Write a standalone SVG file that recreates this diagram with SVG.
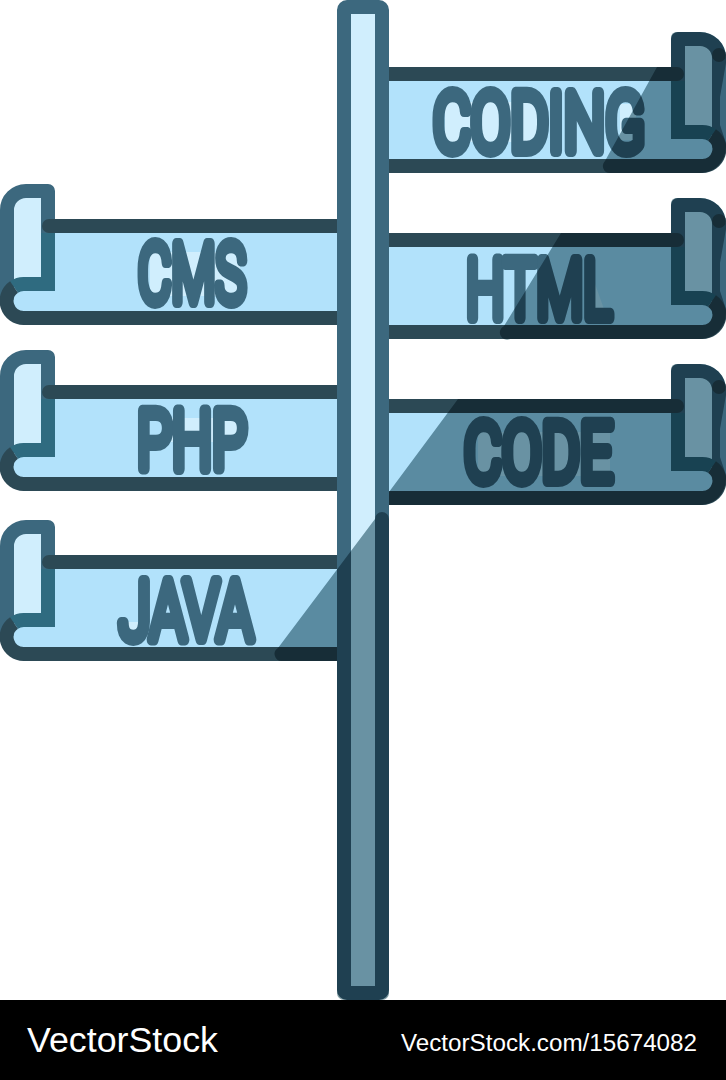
<svg xmlns="http://www.w3.org/2000/svg" width="726" height="1080" viewBox="0 0 726 1080">
<style>
.ln{fill:none;stroke-width:14;stroke-linecap:round;stroke-linejoin:round}
.bt{fill:none;stroke-width:14;stroke-linecap:butt}
.out{stroke:#3c687e}.teal{stroke:#2f6b80}.dk{stroke:#2c4955}
.word{font-family:Roboto,"Liberation Sans",Arial,sans-serif;font-weight:300;font-size:82px;fill:#3c687e;stroke:#3c687e;stroke-width:12;stroke-linejoin:round;stroke-linecap:round}
.pale{fill:#d0eefd}
.shade{fill:#819da4;mix-blend-mode:multiply}
.foot{font-family:"Liberation Sans",Arial,sans-serif;fill:#fff}
</style>
<defs>
<g id="scroll">
<path fill="#b2e2fb" d="M380 74H678V132H702A17 17 0 0 1 702 166H380Z"/>
<rect class="pale" x="678" y="39" width="36" height="93"/>
<path class="ln out" d="M678 132V39H700A19 19 0 0 1 719 58V145"/>
<path class="bt teal" d="M678 81V132H702A17 17 0 0 1 712 135"/>
<path class="bt dk" d="M380 166H702A17 17 0 0 0 712 135"/>
<path class="ln dk" d="M380 74H677"/>
</g>
</defs>
<rect width="726" height="1080" fill="#fff"/>
<g id="sign-coding">
<use href="#scroll"/>
<circle cx="719" cy="55" r="7" fill="#2c4955"/>
<rect class="pale" x="445" y="102" width="100" height="40"/>
<rect class="pale" x="620" y="104" width="16" height="36"/>
<text class="word" x="433" y="151" textLength="212" lengthAdjust="spacingAndGlyphs">CODING</text>
</g>
<g id="sign-html">
<use href="#scroll" transform="translate(0 166)"/>
<circle cx="719" cy="221" r="7" fill="#2c4955"/>
<path class="pale" d="M590 270L605 312H590Z"/>
<text class="word" x="466" y="318" textLength="146" lengthAdjust="spacingAndGlyphs">HTML</text>
</g>
<g id="sign-code">
<use href="#scroll" transform="translate(0 332)"/>
<circle cx="719" cy="387" r="7" fill="#2c4955"/>
<rect class="pale" x="478" y="432" width="132" height="44"/>
<text class="word" x="464" y="481" textLength="149" lengthAdjust="spacingAndGlyphs">CODE</text>
</g>
<g id="sign-cms">
<use href="#scroll" transform="matrix(-1 0 0 1 726 152)"/>
<rect class="pale" x="150" y="252" width="90" height="44"/>
<text class="word" x="138" y="302" textLength="108" lengthAdjust="spacingAndGlyphs">CMS</text>
</g>
<g id="sign-php">
<use href="#scroll" transform="matrix(-1 0 0 1 726 318)"/>
<rect class="pale" x="165" y="418" width="75" height="24"/>
<text class="word" x="137" y="469" textLength="110" lengthAdjust="spacingAndGlyphs">PHP</text>
</g>
<g id="sign-java">
<use href="#scroll" transform="matrix(-1 0 0 1 726 488)"/>
<rect class="pale" x="128" y="622" width="16" height="12"/>
<text class="word" x="119" y="639" textLength="134" lengthAdjust="spacingAndGlyphs">JAVA</text>
</g>
<g id="post">
<rect x="344" y="7" width="38" height="986" rx="3" fill="#d0eefd" stroke="#3c687e" stroke-width="14" stroke-linejoin="round"/>
</g>
<g id="shadows">
<path class="shade" d="M657 67H671V38Q671 32 677 32H700A26 26 0 0 1 726 58V63L720 97V125L726 143V147A26 26 0 0 1 700 173H610A7 7 0 0 1 605 161Z"/>
<path class="shade" d="M561 233H671V204Q671 198 677 198H700A26 26 0 0 1 726 224V229L720 263V291L726 309V313A26 26 0 0 1 700 339H510A7 7 0 0 1 504 326Z"/>
<path class="shade" d="M458 399H671V370Q671 364 677 364H700A26 26 0 0 1 726 390V395L720 429V457L726 475V479A26 26 0 0 1 700 505H389V492Z"/>
<path class="shade" d="M375 519A7 7 0 0 1 389 519V993A7 7 0 0 1 382 1000H344A7 7 0 0 1 337 993V661H282A7 7 0 0 1 278 648Z"/>
</g>
<g id="footer">
<rect y="1000" width="726" height="80" fill="#000"/>
<text class="foot" x="27" y="1052" font-size="35" textLength="191" lengthAdjust="spacingAndGlyphs">VectorStock</text>
<text class="foot" x="401" y="1051" font-size="23" textLength="296" lengthAdjust="spacingAndGlyphs">VectorStock.com/15674082</text>
</g>
</svg>
